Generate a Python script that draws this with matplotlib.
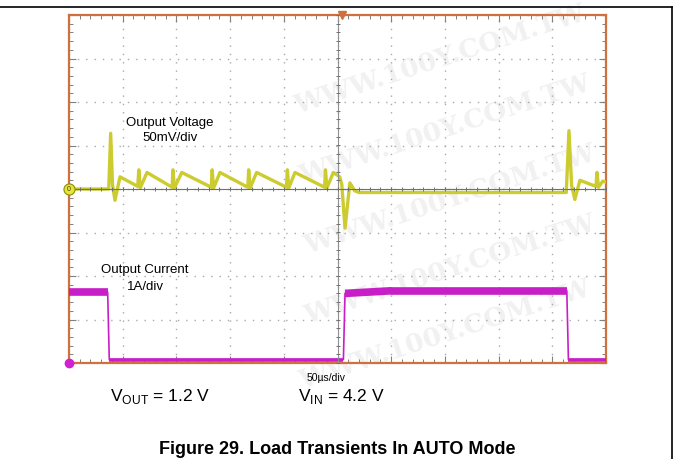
import matplotlib.pyplot as plt
from matplotlib.lines import Line2D
import numpy as np

plt.rcParams['font.family'] = ['Liberation Sans', 'DejaVu Sans']
plt.rcParams['mathtext.fontset'] = 'custom'
plt.rcParams['mathtext.rm'] = 'Liberation Sans'

# scope settings
t_per_div = 50      # us/div
v_per_div = 50      # mV/div
i_per_div = 1       # A/div
i_offset = -4       # current ground at bottom of screen (div)

# output voltage trace (us, mV)
v_t = [0, 37, 38.8, 40.5, 42.8, 47.5, 64, 65, 66.3, 72.6, 96, 96.8, 98.1, 105,
       132.5, 133.3, 134.6, 140.6, 166.5, 167.3, 168.6, 174.7, 202.5, 203.3,
       204.6, 210.4, 238, 238.8, 240.1, 246.1, 252, 254, 257, 261.5, 266, 270,
       463, 465.5, 468, 471, 475.7, 490.6, 491.6, 493, 497, 500]
v_mv = [0, 0, 64, 5, -13, 14, 3, 22, 1, 19, 2, 22, 1, 19,
        2, 22, 1, 19, 2, 22, 1, 19, 2, 22,
        1, 19, 2, 22, 1, 19, 14, 5, -45, 7, -2, -4,
        -4, 67, 4, -12, 10, 3, 19, 2, 9, 8]

# output current trace (us, A)
i_t = [0, 36, 37.5, 255.5, 257, 300, 463.5, 465, 500]
i_a = [1.63, 1.63, 0.08, 0.08, 1.6, 1.66, 1.66, 0.08, 0.08]

W, H = 677, 459
fig = plt.figure(figsize=(W / 100, H / 100), dpi=100)

# faint watermark behind everything
wm = [(440, 60), (445, 130), (450, 200), (450, 270), (445, 335)]
for x, y in wm:
    fig.text(x / W, 1 - y / H, 'WWW.100Y.COM.TW', fontsize=19, family='DejaVu Serif',
             weight='bold', color='#f1f1f1', rotation=18, ha='center', va='center',
             zorder=-5)

ax = fig.add_axes([69 / W, 1 - 363 / H, 537 / W, 348 / H])
ax.set_facecolor('none')
ax.set_xlim(0, 500)
ax.set_ylim(-4, 4)

ax.set_xticks(np.arange(0, 501, 50))
ax.set_xticks(np.arange(0, 501, 10), minor=True)
ax.set_yticks(np.arange(-4, 5, 1))
ax.set_yticks(np.arange(-4, 4.01, 0.2), minor=True)
ax.tick_params(which='both', direction='in', top=True, right=True,
               labelbottom=False, labelleft=False, color='#808080')
ax.tick_params(which='major', length=5, width=0.8)
ax.tick_params(which='minor', length=3, width=0.7)
ax.grid(True, which='major', linestyle=(0, (1, 5)), color='#a8a8a8', linewidth=1.0)
for s in ax.spines.values():
    s.set_color('#d0703c')
    s.set_linewidth(1.6)

# graticule centre lines
ax.axhline(0, color='#707070', lw=0.8, zorder=4)
ax.axvline(250, color='#909090', lw=0.8, zorder=4)
ax.plot(np.arange(0, 501, 10), np.zeros(51), ls='none', marker='|', ms=3,
        mew=0.7, color='#707070', zorder=4)
ax.plot(np.full(41, 250), np.arange(-4, 4.01, 0.2), ls='none', marker='_', ms=3,
        mew=0.7, color='#707070', zorder=4)

# voltage trace
ax.plot(v_t, np.array(v_mv) / v_per_div, color='#cccc30', lw=2.4, zorder=3,
        solid_joinstyle='round')

# current trace: thin edges, noisy (thick) flat levels
i_div = np.array(i_a) / i_per_div + i_offset
ax.plot(i_t, i_div, color='#c81ec8', lw=1.2, zorder=3)
for k in range(len(i_t) - 1):
    if abs(i_a[k + 1] - i_a[k]) < 0.2:
        lw = 5.5 if i_a[k] > 1 else 2.6
        ax.plot(i_t[k:k + 2], i_div[k:k + 2], color='#c81ec8', lw=lw,
                solid_capstyle='butt', zorder=3)

# channel / trigger markers
ax.plot([0], [0], marker='o', ms=8, mfc='#e4e43c', mec='#8a8a10', mew=0.8,
        clip_on=False, zorder=6)
ax.text(0, 0, '0', fontsize=5, ha='center', va='center', color='#404000', zorder=7)
ax.plot([0], [-4], marker='o', ms=6, color='#d020d0', clip_on=False, zorder=6)
ax.plot([254], [4], marker='v', ms=6, color='#d0703c', clip_on=False, zorder=6)

# labels on screen
fig.text(170 / W, 1 - 123 / H, 'Output Voltage', fontsize=9.5, ha='center', va='center')
fig.text(170 / W, 1 - 138 / H, '50mV/div', fontsize=9.5, ha='center', va='center')
fig.text(145 / W, 1 - 270 / H, 'Output Current', fontsize=9.5, ha='center', va='center')
fig.text(145 / W, 1 - 287 / H, '1A/div', fontsize=9.5, ha='center', va='center')
fig.text(326 / W, 1 - 378 / H, '50\u00b5s/div', fontsize=7.5, ha='center', va='center')

fig.text(110 / W, 1 - 401 / H, r'V$_{\mathregular{OUT}}$ = 1.2 V', fontsize=12.5,
         ha='left', va='baseline')
fig.text(298 / W, 1 - 401 / H, r'V$_{\mathregular{IN}}$ = 4.2 V', fontsize=12.5,
         ha='left', va='baseline')
fig.text(337.5 / W, 1 - 454 / H, 'Figure 29. Load Transients In AUTO Mode',
         fontsize=13, weight='bold', ha='center', va='baseline')

# page frame lines
fig.add_artist(Line2D([0, 672 / W], [1 - 7 / H, 1 - 7 / H], color='black', lw=1.2))
fig.add_artist(Line2D([672 / W, 672 / W], [0, 1 - 7 / H], color='black', lw=1.2))

fig.savefig('out.png', dpi=100)
